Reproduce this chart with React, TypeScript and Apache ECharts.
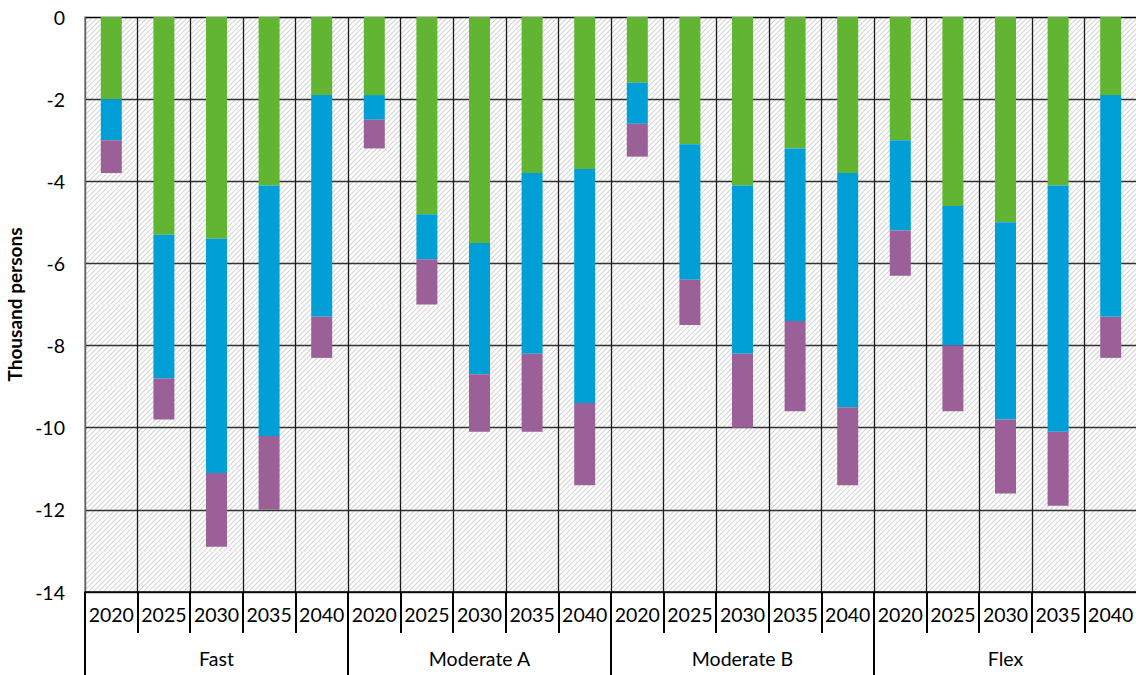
import React, { useEffect, useRef } from "react";
import * as echarts from "echarts";

const years = ["2020", "2025", "2030", "2035", "2040"];
const groups = ["Fast", "Moderate A", "Moderate B", "Flex"];
const yTicks = [0, -2, -4, -6, -8, -10, -12, -14];

// stacked segment values, in thousand persons, per group (Fast, Moderate A, Moderate B, Flex)
const greenValues = [
  -2.0, -5.3, -5.4, -4.1, -1.9,
  -1.9, -4.8, -5.5, -3.8, -3.7,
  -1.6, -3.1, -4.1, -3.2, -3.8,
  -3.0, -4.6, -5.0, -4.1, -1.9,
];
const blueValues = [
  -1.0, -3.5, -5.7, -6.1, -5.4,
  -0.6, -1.1, -3.2, -4.4, -5.7,
  -1.0, -3.3, -4.1, -4.2, -5.7,
  -2.2, -3.4, -4.8, -6.0, -5.4,
];
const purpleValues = [
  -0.8, -1.0, -1.8, -1.8, -1.0,
  -0.7, -1.1, -1.4, -1.9, -2.0,
  -0.8, -1.1, -1.8, -2.2, -1.9,
  -1.1, -1.6, -1.8, -1.8, -1.0,
];

const categories = groups.flatMap((g) => years.map((y) => `${g}|${y}`));

const hatchSvg =
  "<svg xmlns='http://www.w3.org/2000/svg' width='5' height='5'>" +
  "<rect width='5' height='5' fill='white'/>" +
  "<path d='M-1,6 L6,-1 M-1,1 L1,-1 M4,6 L6,4' stroke='#d4d4d4' stroke-width='1.1'/></svg>";
const hatchUrl = "data:image/svg+xml;charset=utf-8," + encodeURIComponent(hatchSvg);

export default function App() {
  const ref = useRef<HTMLDivElement>(null);
  useEffect(() => {
    if (!ref.current) return;
    const chart = echarts.init(ref.current, undefined, { renderer: "svg" });
    const font = "Lato, 'Open Sans', sans-serif";
    const barWidth = 21;
    chart.setOption({
      animation: false,
      backgroundColor: "#ffffff",
      grid: {
        left: 85,
        right: -1,
        top: 17,
        bottom: 83,
        show: true,
        borderWidth: 0,
        containLabel: false,
        outerBoundsMode: "none",
        backgroundColor: { image: hatchUrl, repeat: "repeat" },
      },
      xAxis: [
        {
          type: "category",
          data: categories,
          position: "bottom",
          axisLine: { onZero: false, show: true, lineStyle: { color: "#000", width: 1.5 } },
          axisTick: { show: true, interval: 0, length: 41, lineStyle: { color: "#000", width: 2 } },
          axisLabel: {
            interval: 0,
            margin: 12,
            fontSize: 19.5,
            fontFamily: font,
            color: "#000",
            formatter: (v: string) => v.split("|")[1],
          },
          splitLine: { show: true, interval: 0, lineStyle: { color: "#1a1a1a", width: 1.3 } },
        },
        {
          type: "category",
          data: groups,
          position: "bottom",
          axisLine: { onZero: false, show: false },
          axisTick: { show: true, interval: 0, length: 84, lineStyle: { color: "#000", width: 2 } },
          axisLabel: {
            interval: 0,
            margin: 56,
            fontSize: 19.5,
            fontFamily: font,
            color: "#000",
          },
          splitLine: { show: false },
        },
      ],
      yAxis: {
        type: "value",
        min: -14,
        max: 0,
        interval: 2,
        name: "Thousand persons",
        nameLocation: "middle",
        nameGap: 58,
        nameTextStyle: { fontSize: 19, fontWeight: "bold", fontFamily: font, color: "#000" },
        axisLine: { show: true, lineStyle: { color: "#7f7f7f", width: 1.5 } },
        axisTick: { show: false },
        axisLabel: {
          margin: 20,
          fontSize: 19.5,
          fontFamily: font,
          color: "#000",
          formatter: (v: number) => (yTicks.includes(v) ? String(v) : ""),
        },
        splitLine: {
          show: true,
          lineStyle: {
            color: ["#333", "#333", "#333", "#333", "#333", "#333", "#333", "#000"],
            width: 1.3,
          },
        },
        minorTick: { show: false, splitNumber: 2 },
        minorSplitLine: { show: true, lineStyle: { color: "#f2f2f2", width: 1 } },
      },
      series: [
        {
          name: "green",
          type: "bar",
          stack: "s",
          barWidth,
          data: greenValues,
          itemStyle: { color: "#62b532" },
        },
        {
          name: "blue",
          type: "bar",
          stack: "s",
          barWidth,
          data: blueValues,
          itemStyle: { color: "#00a0d6" },
        },
        {
          name: "purple",
          type: "bar",
          stack: "s",
          barWidth,
          data: purpleValues,
          itemStyle: { color: "#9c6099" },
        },
      ],
    });
    return () => chart.dispose();
  }, []);
  return (
    <div
      ref={ref}
      style={{ position: "fixed", left: 0, top: 0, width: 1136, height: 675 }}
    />
  );
}
